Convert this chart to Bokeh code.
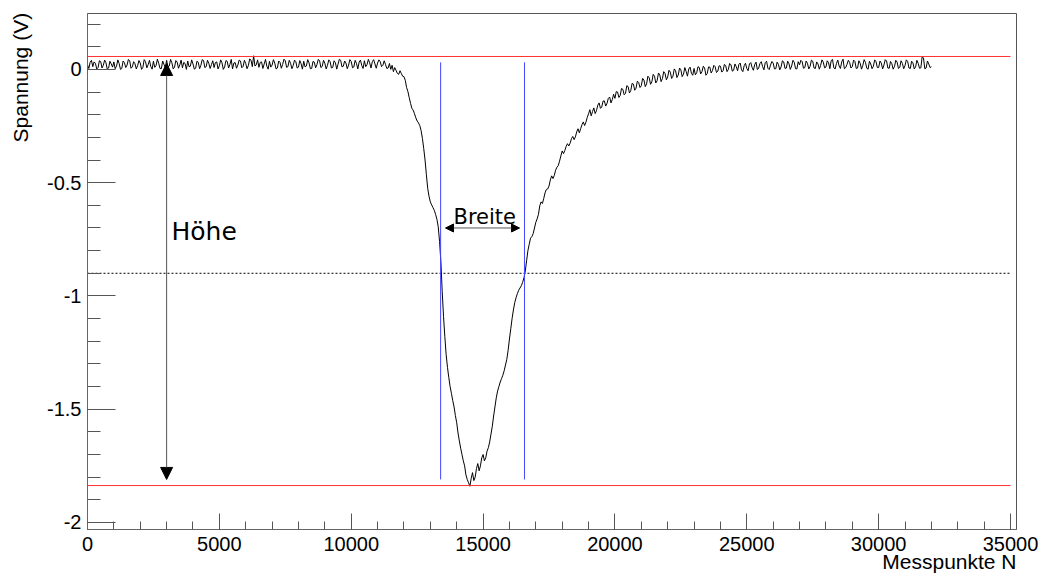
import math
from bokeh.plotting import figure
from bokeh.models import (Range1d, SingleIntervalTicker, CustomJSTickFormatter, Label,
                          Arrow, NormalHead)
from bokeh.embed import file_html
from bokeh.resources import INLINE

# ---------------- data ----------------
messpunkte = list(range(0, 32001, 50))
spannung = [
    0.020, 0.004, 0.031, 0.040, 0.012, 0.033, 0.027, 0.002, 0.008, 0.038, 0.035, 0.006, 0.018, 0.041, 0.029, 0.001, 0.006, 0.036, 0.024, 0.010,
    0.033, 0.003, 0.014, 0.042, 0.026, 0.000, 0.004, 0.037, 0.030, 0.008, 0.019, 0.044, 0.038, 0.005, 0.011, 0.034, 0.025, 0.002, 0.016, 0.039,
    0.028, 0.000, 0.009, 0.043, 0.034, 0.007, 0.021, 0.040, 0.013, 0.001, 0.036, 0.009, 0.017, 0.045, 0.027, 0.004, 0.003, 0.037, 0.022, 0.006,
    0.040, 0.011, 0.015, 0.044, 0.029, 0.002, 0.010, 0.039, 0.032, 0.005, 0.020, 0.041, 0.007, 0.031, 0.026, 0.000, 0.037, 0.012, 0.014, 0.042,
    0.024, 0.001, 0.005, 0.036, 0.031, 0.003, 0.018, 0.043, 0.039, 0.008, 0.012, 0.040, 0.027, 0.004, 0.021, 0.038, 0.008, 0.030, 0.033, 0.002,
    0.016, 0.042, 0.029, 0.000, 0.011, 0.039, 0.035, 0.006, 0.022, 0.044, 0.002, 0.028, 0.030, 0.005, 0.019, 0.041, 0.037, 0.007, 0.013, 0.040,
    0.026, 0.003, 0.017, 0.046, 0.041, 0.012, 0.060, 0.015, 0.020, 0.042, 0.009, 0.031, 0.033, 0.004, 0.024, 0.044, 0.014, 0.001, 0.036, 0.010,
    0.019, 0.043, 0.028, 0.002, 0.006, 0.037, 0.031, 0.005, 0.022, 0.045, 0.038, 0.009, 0.012, 0.040, 0.027, 0.003, 0.017, 0.041, 0.034, 0.006,
    0.010, 0.039, 0.025, 0.001, 0.036, 0.011, 0.015, 0.043, 0.029, 0.003, 0.004, 0.035, 0.032, 0.007, 0.021, 0.044, 0.039, 0.008, 0.013, 0.040,
    0.027, 0.002, 0.018, 0.042, 0.034, 0.006, 0.009, 0.038, 0.030, 0.001, 0.023, 0.045, 0.040, 0.011, 0.014, 0.037, 0.028, 0.003, 0.019, 0.043,
    0.035, 0.007, 0.011, 0.040, 0.026, 0.002, 0.032, 0.041, 0.017, 0.004, 0.038, 0.012, 0.021, 0.044, 0.029, 0.006, 0.034, 0.043, 0.024, 0.005,
    0.028, 0.042, 0.034, 0.012, 0.018, 0.038, 0.022, 0.004, 0.006, 0.026, 0.000, 0.018, -0.010, 0.008, -0.004, -0.018, -0.022, -0.006, -0.018, -0.030,
    -0.032, -0.048, -0.080, -0.098, -0.125, -0.150, -0.172, -0.180, -0.196, -0.214, -0.228, -0.236, -0.248, -0.270, -0.305, -0.350, -0.400, -0.465, -0.525, -0.560,
    -0.585, -0.598, -0.610, -0.622, -0.640, -0.662, -0.695, -0.760, -0.850, -0.980, -1.090, -1.180, -1.260, -1.315, -1.360, -1.400, -1.430, -1.462, -1.490, -1.528,
    -1.560, -1.605, -1.640, -1.672, -1.700, -1.728, -1.750, -1.790, -1.810, -1.825, -1.840, -1.805, -1.780, -1.815, -1.800, -1.762, -1.740, -1.772, -1.750, -1.715,
    -1.700, -1.728, -1.715, -1.685, -1.670, -1.645, -1.610, -1.575, -1.530, -1.490, -1.450, -1.420, -1.400, -1.380, -1.365, -1.350, -1.330, -1.305, -1.280, -1.240,
    -1.190, -1.145, -1.100, -1.062, -1.030, -1.008, -0.990, -0.975, -0.965, -0.955, -0.940, -0.920, -0.890, -0.845, -0.800, -0.772, -0.745, -0.738, -0.725, -0.700,
    -0.675, -0.660, -0.640, -0.602, -0.585, -0.592, -0.570, -0.545, -0.530, -0.528, -0.515, -0.488, -0.470, -0.482, -0.468, -0.445, -0.432, -0.425, -0.405, -0.382,
    -0.360, -0.372, -0.358, -0.340, -0.328, -0.338, -0.326, -0.306, -0.296, -0.310, -0.298, -0.276, -0.262, -0.280, -0.262, -0.244, -0.232, -0.248, -0.233, -0.212,
    -0.196, -0.178, -0.205, -0.186, -0.170, -0.195, -0.182, -0.158, -0.148, -0.172, -0.166, -0.140, -0.139, -0.162, -0.150, -0.128, -0.122, -0.148, -0.133, -0.110,
    -0.128, -0.098, -0.100, -0.124, -0.115, -0.084, -0.088, -0.112, -0.106, -0.072, -0.076, -0.104, -0.094, -0.062, -0.065, -0.092, -0.083, -0.052, -0.058, -0.080,
    -0.072, -0.040, -0.047, -0.076, -0.064, -0.030, -0.037, -0.066, -0.055, -0.022, -0.030, -0.060, -0.050, -0.016, -0.024, -0.054, -0.041, -0.010, -0.018, -0.046,
    -0.034, -0.004, -0.012, -0.040, -0.030, 0.002, -0.006, -0.036, -0.025, 0.006, -0.002, -0.032, -0.021, 0.008, -0.009, -0.030, 0.002, 0.010, -0.017, -0.026,
    0.004, -0.024, -0.015, 0.012, 0.008, -0.020, -0.010, 0.014, 0.006, -0.026, -0.018, 0.011, 0.010, -0.016, -0.005, 0.018, 0.012, -0.014, -0.008, 0.016,
    0.014, -0.012, -0.006, 0.022, 0.017, -0.010, 0.000, 0.026, 0.020, -0.008, -0.004, 0.024, 0.012, -0.006, 0.022, 0.028, -0.002, -0.010, 0.016, 0.027,
    0.004, -0.006, 0.024, 0.030, 0.009, -0.004, 0.021, 0.032, -0.001, 0.006, 0.026, 0.034, 0.012, -0.002, 0.030, 0.036, 0.005, -0.001, 0.019, 0.035,
    0.028, 0.002, 0.003, 0.032, 0.022, -0.002, 0.011, 0.038, 0.033, 0.004, 0.006, 0.036, 0.025, 0.000, 0.015, 0.040, 0.031, 0.003, 0.002, 0.034,
    0.020, 0.040, 0.034, 0.005, 0.008, 0.037, 0.027, 0.002, 0.013, 0.041, 0.036, 0.006, 0.004, 0.033, 0.024, 0.001, 0.018, 0.042, 0.032, 0.007,
    0.010, 0.038, 0.029, 0.003, 0.039, 0.044, 0.007, 0.002, 0.026, 0.041, 0.015, 0.004, 0.033, 0.045, 0.003, 0.008, 0.022, 0.040, 0.030, 0.006,
    0.012, 0.041, 0.035, 0.004, 0.006, 0.038, 0.027, 0.001, 0.018, 0.043, 0.031, 0.005, 0.001, 0.036, 0.024, 0.003, 0.014, 0.042, 0.034, 0.008,
    0.008, 0.037, 0.028, 0.002, 0.019, 0.043, 0.037, 0.006, 0.005, 0.035, 0.025, 0.001, 0.013, 0.040, 0.032, 0.004, 0.009, 0.038, 0.026, 0.003,
    0.017, 0.042, 0.035, 0.006, 0.004, 0.036, 0.029, 0.002, 0.011, 0.040, 0.026, 0.005, 0.007, 0.056, 0.050, 0.003, 0.006, 0.037, 0.024, 0.008,
    0.012,
]
assert len(spannung) == len(messpunkte)

# reference levels / annotation values
pegel_oben = 0.057        # red upper level
pegel_unten = -1.837      # red lower level
pegel_halb = -0.90        # dotted half level
linien_x_max = 35000
breite_links = 13390      # blue lines
breite_rechts = 16570
blau_y = [0.031, -1.81]
hoehe_x = 3000
hoehe_pfeil = [0.026, -1.81]
breite_pfeil_y = -0.70
breite_pfeil_x = [13576, 16382]

x_titel = "Messpunkte N"
y_titel = "Spannung (V)"

x_min, x_max = 0, 35227
y_min, y_max = -2.031, 0.2467

p = figure(width=1042, height=575, output_backend="svg", toolbar_location=None,
           x_range=Range1d(x_min, x_max), y_range=Range1d(y_min, y_max),
           min_border_left=87, min_border_right=26, min_border_top=13, min_border_bottom=45,
           background_fill_color="white", border_fill_color="white")
p.grid.visible = False
p.outline_line_color = "#555555"
p.outline_line_width = 1

# axes styling (ROOT-like ticks inside)
p.xaxis.ticker = SingleIntervalTicker(interval=5000, num_minor_ticks=5)
p.yaxis.ticker = SingleIntervalTicker(interval=0.5, num_minor_ticks=5)
p.yaxis.formatter = CustomJSTickFormatter(code="return String(Number(tick.toFixed(3)));")
p.xaxis.formatter = CustomJSTickFormatter(code="return String(Math.round(tick));")
for ax in (p.xaxis[0], p.yaxis[0]):
    ax.axis_line_color = "#666666"
    ax.major_tick_line_color = "#555555"
    ax.minor_tick_line_color = "#555555"
    ax.major_tick_out = 0
    ax.minor_tick_out = 0
    ax.major_label_text_font = "Liberation Sans"
    ax.major_label_text_font_size = "20px"
    ax.major_label_text_color = "black"
p.yaxis.major_tick_in = 28
p.yaxis.minor_tick_in = 13
p.xaxis.major_tick_in = 16
p.xaxis.minor_tick_in = 8
p.yaxis.major_label_standoff = 6
p.xaxis.major_label_standoff = 7
p.yaxis.major_label_orientation = "horizontal"

# axis titles at the end of the axes (ROOT style); the label is centred on the
# axis end, so it is padded with non-breaking spaces of about its own width
NBSP = "\u00a0"
xa, ya = p.xaxis[0], p.yaxis[0]
for ax, t, n in ((xa, x_titel, 23), (ya, y_titel, 22)):
    ax.axis_label = t + NBSP * n
    ax.axis_label_align = "end"
    ax.axis_label_text_font = "Liberation Sans"
    ax.axis_label_text_font_size = "21px"
    ax.axis_label_text_font_style = "normal"
    ax.axis_label_text_color = "black"
xa.axis_label_standoff = -4
ya.axis_label_standoff = 12

# signal
p.line(messpunkte, spannung, line_color="black", line_width=1)

# red levels
p.segment(x0=[0, 0], y0=[pegel_oben, pegel_unten], x1=[linien_x_max, linien_x_max],
          y1=[pegel_oben, pegel_unten], line_color="#ff3030", line_width=1)
# dotted half line
p.segment(x0=[0], y0=[pegel_halb], x1=[linien_x_max], y1=[pegel_halb],
          line_color="black", line_width=1, line_dash="2 2")
# blue lines
p.segment(x0=[breite_links, breite_rechts], y0=[blau_y[0]] * 2,
          x1=[breite_links, breite_rechts], y1=[blau_y[1]] * 2,
          line_color="#4444ff", line_width=1)

# arrows
p.add_layout(Arrow(x_start=hoehe_x, y_start=hoehe_pfeil[0], x_end=hoehe_x, y_end=hoehe_pfeil[1],
                   line_color="#555555", line_width=1,
                   start=NormalHead(size=12, fill_color="black", line_color="black"),
                   end=NormalHead(size=12, fill_color="black", line_color="black")))
p.add_layout(Arrow(x_start=breite_pfeil_x[0], y_start=breite_pfeil_y, x_end=breite_pfeil_x[1],
                   y_end=breite_pfeil_y, line_color="#555555", line_width=1,
                   start=NormalHead(size=8, fill_color="black", line_color="black"),
                   end=NormalHead(size=8, fill_color="black", line_color="black")))

# annotation texts
p.add_layout(Label(x=3185, y=-0.714, text="Höhe", text_font="DejaVu Sans",
                   text_font_size="25px", text_color="black", text_baseline="alphabetic"))
p.add_layout(Label(x=13879, y=-0.652, text="Breite", text_font="DejaVu Sans",
                   text_font_size="21px", text_color="black", text_baseline="alphabetic"))

open("out.html", "w").write(file_html(p, INLINE))
